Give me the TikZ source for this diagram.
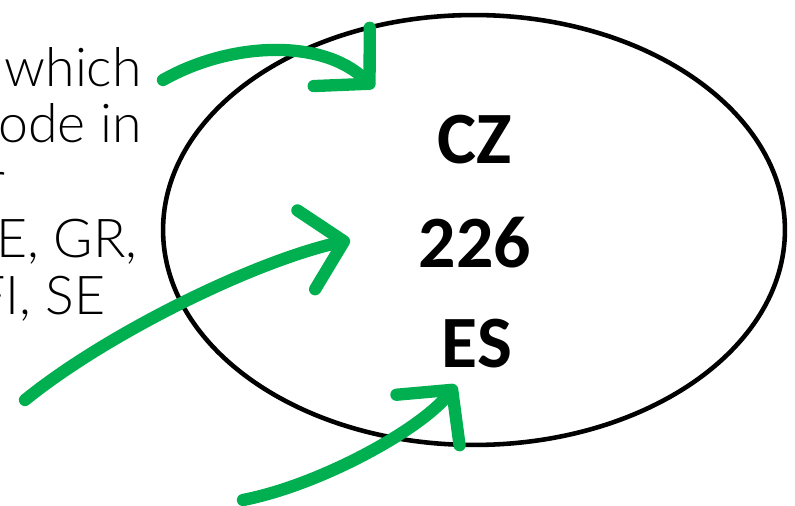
\documentclass[tikz,border=0pt]{standalone}
\usepackage{xcolor}
\usepackage{fontspec}
\setmainfont{Carlito}
\newfontfamily\lightfont{Lato Light}
\usepackage{tikz}
\usetikzlibrary{shapes.geometric, arrows.meta, positioning}

\definecolor{markgreen}{RGB}{0,176,80}

\begin{document}
\begin{tikzpicture}[
    x=0.02cm, y=-0.02cm,
    set/.style={ellipse, draw, line width=2.6pt, minimum width=12.44cm, minimum height=8.6cm, inner sep=0pt},
    code/.style={font=\fontsize{42}{50}\selectfont\bfseries, inner sep=0pt, anchor=base},
    note/.style={font=\lightfont\fontsize{30.5}{36}\selectfont, inner sep=0pt, anchor=base east},
    marker/.style={markgreen, line width=7pt, line cap=round, line join=round,
        -{Straight Barb[length=22pt, width=46pt, round]}}
]
\useasboundingbox (0,0) rectangle (795,506);
\clip (0,0) rectangle (795,506);

% Set
\node[set] (set) at (474,230) {};

% Codes
\node[code] (cz) at (475,164) {CZ};
\node[code] (num) at (475,268) {226};
\node[code] (es) at (477,368) {ES};

% Notes (cut off at the left)
\node[note] (line1) at (142,87) {which};
\node[note] (line2) at (142,143) {code in};
\node[note] (line3) at (6,200) {r};
\node[note] (line4) at (138,258) {IE, GR,};
\node[note] (line5) at (106,315) {FI, SE};

% Arrows
\coordinate (startA) at (163,80);
\coordinate (tipA) at (374,88);
\coordinate (startB) at (25,400);
\coordinate (tipB) at (350,240);
\coordinate (startC) at (243,500);
\coordinate (tipC) at (456,385);

\draw[marker] (startA) .. controls (230,42) and (322,38) .. (tipA);
\draw[marker] (startB) .. controls (105,335) and (252,262) .. (tipB);
\draw[marker] (startC) .. controls (320,485) and (420,430) .. (tipC);

\end{tikzpicture}
\end{document}
